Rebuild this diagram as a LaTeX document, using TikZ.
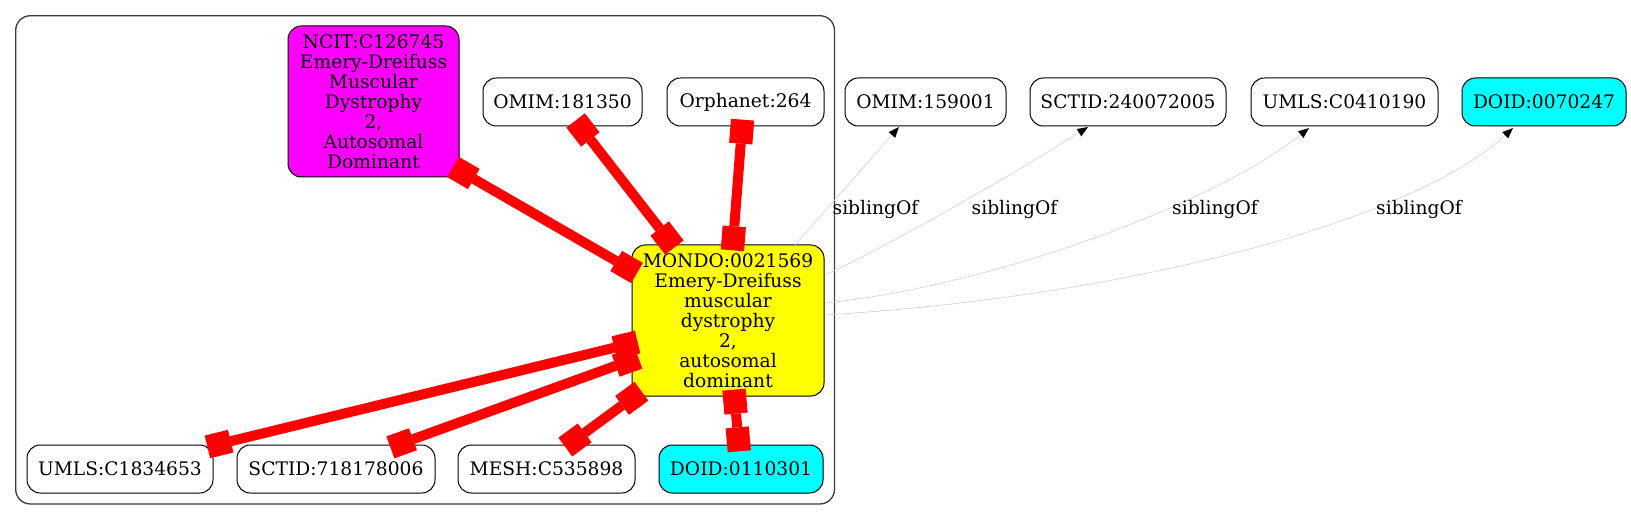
\documentclass[tikz,border=0pt]{standalone}
\usepackage{fontspec}
\setmainfont{DejaVu Serif}
\usetikzlibrary{arrows.meta}
\definecolor{edgegray}{RGB}{211,211,211}
\definecolor{clusterline}{RGB}{60,60,60}
\definecolor{gvmagenta}{RGB}{255,0,255}
\definecolor{gvyellow}{RGB}{255,255,0}
\definecolor{gvcyan}{RGB}{0,255,255}
\definecolor{gvred}{RGB}{255,0,0}
\begin{document}
\begin{tikzpicture}[x=0.75pt,y=-0.75pt,
  box/.style={draw=black, line width=0.75pt, rounded corners=10pt, inner sep=0pt, align=center,
    font=\fontsize{14pt}{15pt}\selectfont, minimum height=36pt},
  clusterbox/.style={draw=clusterline, line width=1pt, rounded corners=11pt, inner sep=0pt},
  rel/.style={draw=gvred, line width=7.5pt,
    arrows={Square[length=18pt,width=17.5pt,line width=0pt]-Square[length=18pt,width=17.5pt,line width=0pt]}},
  sib/.style={draw=edgegray, line width=0.5pt, -{Triangle[length=8pt,width=6.5pt,line width=0pt,color=black]}},
  lbl/.style={font=\fontsize{14pt}{15pt}\selectfont, inner sep=0pt},
]
\useasboundingbox (0,0) rectangle (1631,520);

% cluster
\node[clusterbox, minimum width=614.1pt, minimum height=366.2pt] (cl) at (425.1,259.85) {};

% nodes inside cluster
\node[box, fill=gvmagenta, minimum width=128.25pt, minimum height=113.25pt] (ncit) at (373.5,101.5)
  {NCIT:C126745\\Emery-Dreifuss\\Muscular\\Dystrophy\\2,\\Autosomal\\Dominant};
\node[box, minimum width=119.25pt] (omimA) at (562.5,102) {OMIM:181350};
\node[box, minimum width=117.75pt] (orpha) at (745.5,102) {Orphanet:264};
\node[box, fill=gvyellow, minimum width=144pt, minimum height=113.25pt] (mondo) at (728,320.5)
  {MONDO:0021569\\Emery-Dreifuss\\muscular\\dystrophy\\2,\\autosomal\\dominant};
\node[box, minimum width=139.5pt] (umlsA) at (120,469) {UMLS:C1834653};
\node[box, minimum width=148.5pt] (sctidA) at (336,469) {SCTID:718178006};
\node[box, minimum width=132.75pt] (mesh) at (546.5,469) {MESH:C535898};
\node[box, fill=gvcyan, minimum width=123pt] (doidA) at (741,469) {DOID:0110301};

% nodes outside
\node[box, minimum width=120.75pt] (omimB) at (925.5,102) {OMIM:159001};
\node[box, minimum width=147pt] (sctidB) at (1128,102) {SCTID:240072005};
\node[box, minimum width=140.25pt] (umlsB) at (1344.5,102) {UMLS:C0410190};
\node[box, fill=gvcyan, minimum width=123pt] (doidB) at (1544,102) {DOID:0070247};

% red equivalence edges
\draw[rel] ([shift={(79.5,65.5)}]ncit.center) -- ([shift={(-91,-47.5)}]mondo.center);
\draw[rel] ([shift={(13.1,18.5)}]omimA.center) -- ([shift={(-53.6,-73)}]mondo.center);
\draw[rel] ([shift={(-2.9,17.7)}]orpha.center) -- ([shift={(4.4,-70.2)}]mondo.center);
\draw[rel] ([shift={(87.4,-22.1)}]umlsA.center) -- ([shift={(-90.4,21.5)}]mondo.center);
\draw[rel] ([shift={(54.4,-21.6)}]sctidA.center) -- ([shift={(-89.7,37.1)}]mondo.center);
\draw[rel] ([shift={(18.8,-21.9)}]mesh.center) -- ([shift={(-86.6,70.7)}]mondo.center);
\draw[rel] ([shift={(-1.7,-17.7)}]doidA.center) -- ([shift={(6,69.2)}]mondo.center);

% siblingOf edges
\draw[sib] ([shift={(67,-75.5)}]mondo.center) -- ([shift={(-26.5,25)}]omimB.center);
\draw[sib] ([shift={(97,-45.5)}]mondo.center) .. controls (900,240) and (1020,170) .. ([shift={(-40,25)}]sctidB.center);
\draw[sib] ([shift={(97,-17.5)}]mondo.center) .. controls (1000,285) and (1220,200) .. ([shift={(-35.5,26)}]umlsB.center);
\draw[sib] ([shift={(97,-5.5)}]mondo.center) .. controls (1150,295) and (1420,215) .. ([shift={(-31,26)}]doidB.center);

% labels
\node[lbl] (l1) at (875.5,209) {siblingOf};
\node[lbl] (l2) at (1014.5,209) {siblingOf};
\node[lbl] (l3) at (1215,209) {siblingOf};
\node[lbl] (l4) at (1419,209) {siblingOf};
\end{tikzpicture}
\end{document}
